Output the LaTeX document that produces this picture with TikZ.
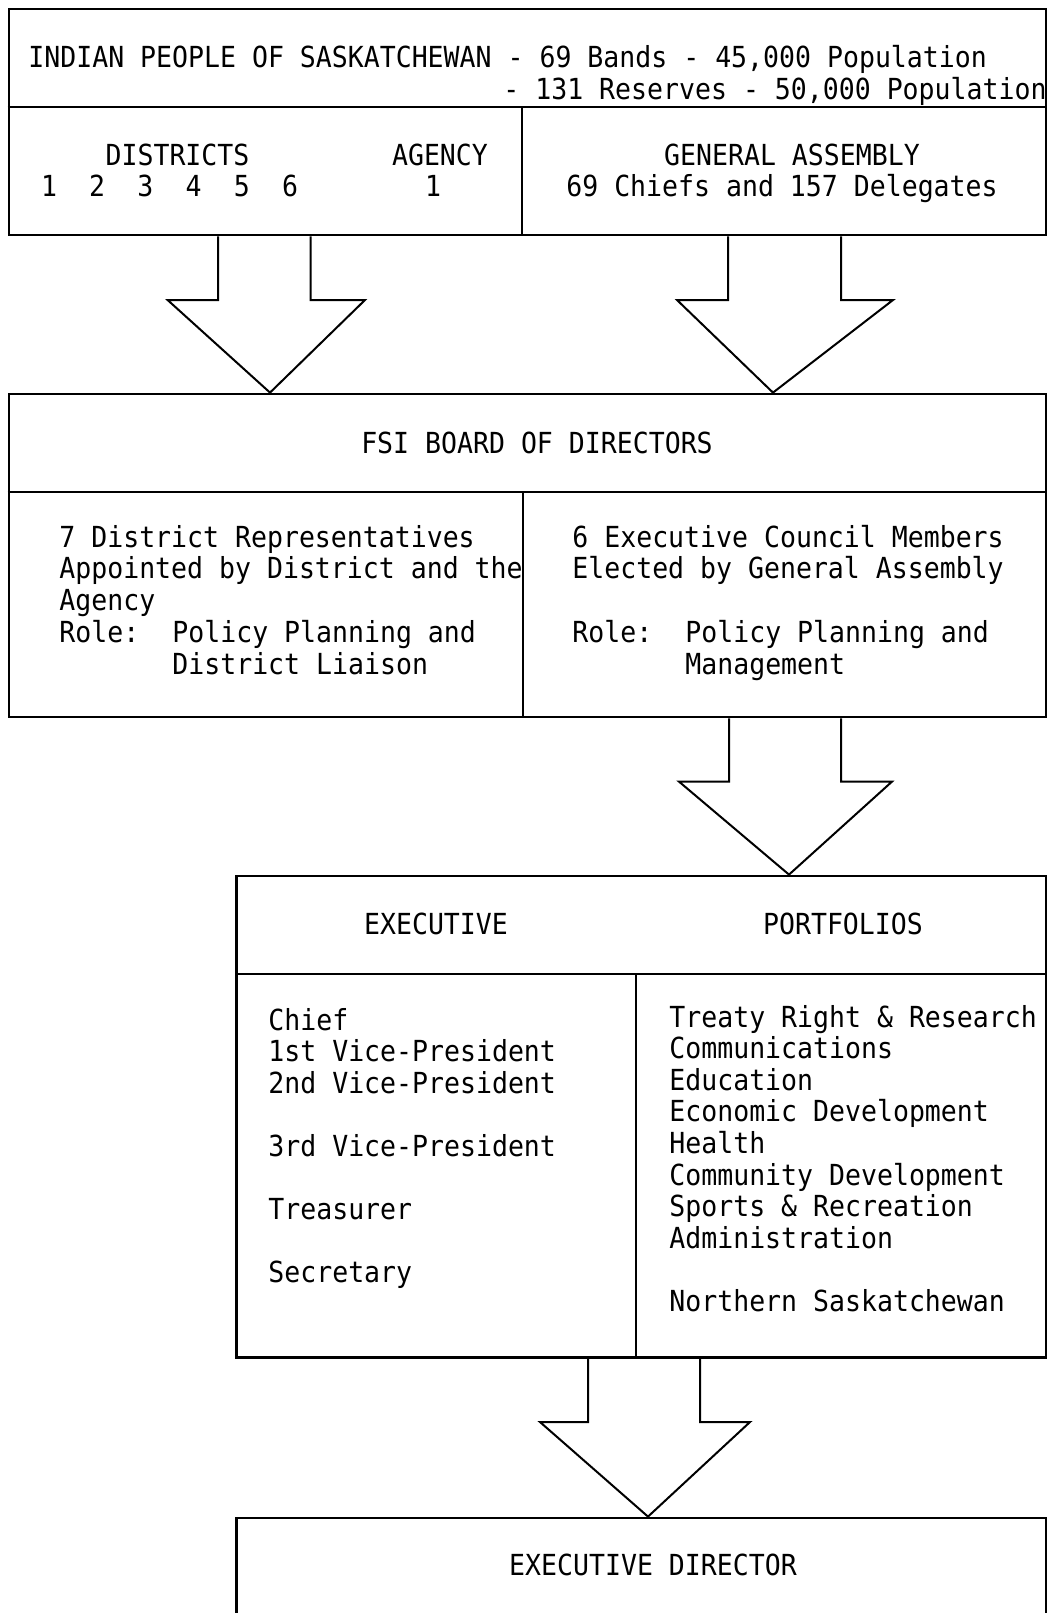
\documentclass[tikz,border=0pt]{standalone}
\usepackage{fontspec}
\setmonofont[FakeStretch=0.915]{DejaVu Sans Mono}
\usetikzlibrary{calc}

\tikzset{
 box/.style={draw, line width=1.4pt, inner sep=0pt},
 rule/.style={line width=1.4pt},
 blockarrow/.style={line width=1pt, line join=miter},
 txt/.style={font=\ttfamily\fontsize{14.5}{15.8}\selectfont, inner sep=0pt},
 ln/.style={txt, anchor=base west},
 hd/.style={txt, anchor=base}
}

\begin{document}
\begin{tikzpicture}[x=0.5pt, y=-0.5pt]
\useasboundingbox (0,0) rectangle (1049,1613);
\clip (0,0) rectangle (1049,1613);
\fill[white] (0,0) rectangle (1049,1613);

% the four boxes
\node[box, minimum width=518.5pt, minimum height=113pt] (people) at (527.5,122) {};
\node[box, minimum width=518.5pt, minimum height=161.5pt] (board) at (527.5,555.5) {};
\node[box, minimum width=404.75pt, minimum height=240.75pt] (exec) at (641.25,1116.75) {};
\node[box, minimum width=404.75pt, minimum height=66pt] (director) at (641.25,1584) {};

% inner rules
\draw[rule] (people.west |- 0,107) -- (people.east |- 0,107);
\draw[rule] (522,107) -- (522,0 |- people.south);
\draw[rule] (board.west |- 0,492) -- (board.east |- 0,492);
\draw[rule] (523,492) -- (523,0 |- board.south);
\draw[rule] (exec.west |- 0,974) -- (exec.east |- 0,974);
\draw[rule] (636,974) -- (636,0 |- exec.south);

% hollow arrows between the boxes
\foreach \from/\to/\shl/\shr/\hdl/\hdr/\tipx/\wingy in {
 people/board/218/310.6/167.6/365/270/300,
 people/board/728/841/677/893/773/300,
 board/exec/729/841/679/892/789/781.6,
 exec/director/588/700/540/750/648/1422}
 \draw[blockarrow] (\shl,0 |- \from.south) -- (\shl,\wingy) -- (\hdl,\wingy)
  -- (\tipx,0 |- \to.north) -- (\hdr,\wingy) -- (\shr,\wingy) -- (\shr,0 |- \from.south);

% people
\node[ln] (title-a) at (28,67) {INDIAN PEOPLE OF SASKATCHEWAN - 69 Bands - 45,000 Population};
\node[ln] (title-b) at (503,99) {- 131 Reserves - 50,000 Population};
\node[hd] (districts) at (177.5,165) {DISTRICTS};
\foreach \d in {1,...,6}
 \node[hd] (district-\d) at ({49+48.2*(\d-1)},196) {\d};
\node[hd] (agency) at (440,165) {AGENCY};
\node[hd] (agency-1) at (433,196) {1};
\node[hd] (assembly) at (792,165) {GENERAL ASSEMBLY};
\node[hd] (assembly-n) at (782,196) {69 Chiefs and 157 Delegates};

% board
\node[hd] (fsi) at (537,453) {FSI BOARD OF DIRECTORS};
\foreach \t [count=\i from 0] in {7 District Representatives, Appointed by District and the, Agency, Role:}
 \node[ln] (reps-\i) at (59,{547+31.7*\i}) {\t};
\node[ln] (reps-role) at (172,642) {Policy Planning and};
\node[ln] (reps-role-b) at (172,674) {District Liaison};
\node[ln] (council-0) at (572,547) {6 Executive Council Members};
\node[ln] (council-1) at (572,578.7) {Elected by General Assembly};
\node[ln] (council-2) at (572,642) {Role:};
\node[ln] (council-role) at (685,642) {Policy Planning and};
\node[ln] (council-role-b) at (685,674) {Management};

% executive
\node[hd] (executive) at (436,934) {EXECUTIVE};
\node[hd] (portfolios) at (843,934) {PORTFOLIOS};
\foreach \t/\i in {Chief/0, 1st Vice-President/1, 2nd Vice-President/2,
 3rd Vice-President/4, Treasurer/6, Secretary/8}
 \node[ln] (officer-\i) at (268,{1030+31.6*\i}) {\t};
\foreach \t/\i in {Treaty Right \& Research/0, Communications/1, Education/2,
 Economic Development/3, Health/4, Community Development/5,
 Sports \& Recreation/6, Administration/7, Northern Saskatchewan/9}
 \node[ln] (portfolio-\i) at (669,{1027+31.6*\i}) {\t};

% director
\node[hd] (director-name) at (653,1575) {EXECUTIVE DIRECTOR};
\end{tikzpicture}
\end{document}
